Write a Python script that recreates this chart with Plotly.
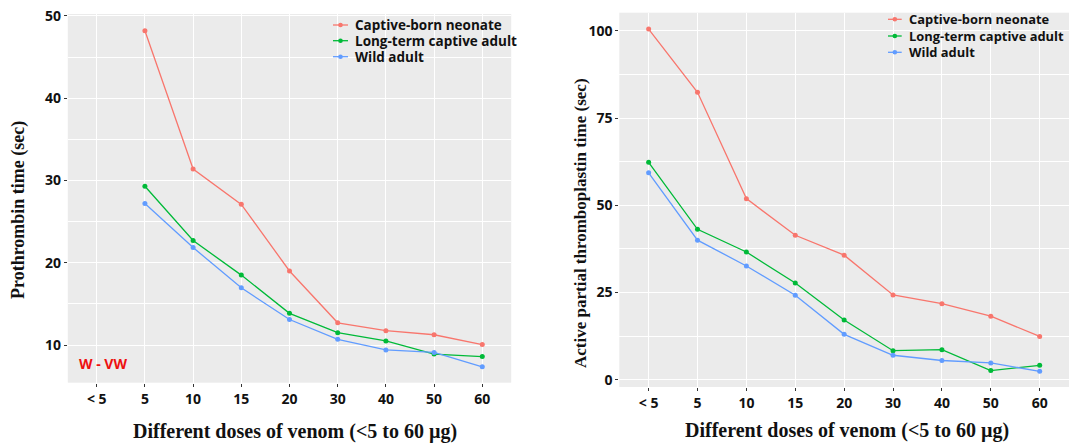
import plotly.graph_objects as go

W, H = 1069, 444

categories = ["< 5", "5", "10", "15", "20", "30", "40", "50", "60"]
series_names = ["Captive-born neonate", "Long-term captive adult", "Wild adult"]
series_colors = ["#F8766D", "#00BA38", "#619CFF"]

# Prothrombin time (sec)
neonate_pt = [None, 48.2, 31.4, 27.1, 19.0, 12.7, 11.75, 11.25, 10.05]
captive_pt = [None, 29.3, 22.7, 18.5, 13.85, 11.5, 10.5, 8.9, 8.6]
wild_pt = [None, 27.2, 21.85, 16.95, 13.1, 10.7, 9.4, 9.1, 7.35]

# Active partial thromboplastin time (sec)
neonate_aptt = [100.5, 82.4, 51.9, 41.4, 35.7, 24.3, 21.8, 18.2, 12.4]
captive_aptt = [62.3, 43.1, 36.6, 27.7, 17.1, 8.3, 8.6, 2.6, 4.1]
wild_aptt = [59.3, 40.0, 32.6, 24.2, 13.0, 7.0, 5.5, 4.8, 2.4]

def px(x):
    return x / W

def py(y):
    return (H - y) / H

fig = go.Figure()

for name, col, vals in zip(series_names, series_colors, [neonate_pt, captive_pt, wild_pt]):
    fig.add_trace(go.Scatter(x=categories, y=vals, name=name, mode="lines+markers",
                             line=dict(color=col, width=1.3), marker=dict(color=col, size=5),
                             xaxis="x", yaxis="y", showlegend=False))
for name, col, vals in zip(series_names, series_colors, [neonate_aptt, captive_aptt, wild_aptt]):
    fig.add_trace(go.Scatter(x=categories, y=vals, name=name, mode="lines+markers",
                             line=dict(color=col, width=1.3), marker=dict(color=col, size=5),
                             xaxis="x2", yaxis="y2", showlegend=False))

tickfont = dict(family="Open Sans", size=14, color="#111111", weight="bold")
common_x = dict(type="category", categoryorder="array", categoryarray=categories,
                range=[-0.6, 8.6], showgrid=True, gridcolor="white", gridwidth=1.4,
                ticks="outside", ticklen=3, tickcolor="#333333", tickwidth=1,
                tickfont=tickfont, zeroline=False, showline=False, fixedrange=True)
common_y = dict(showgrid=True, gridcolor="white", gridwidth=1.4,
                ticks="outside", ticklen=3, tickcolor="#333333", tickwidth=1,
                tickfont=tickfont, zeroline=False, showline=False)

fig.update_layout(
    width=W, height=H,
    margin=dict(l=0, r=0, t=0, b=0, autoexpand=False),
    paper_bgcolor="white",
    plot_bgcolor="#EBEBEB",
    showlegend=False,
    xaxis=dict(common_x, domain=[px(67.8), px(511.2)], anchor="y"),
    yaxis=dict(common_y, domain=[py(382.7), py(14)], anchor="x", range=[5.42, 50.24],
               dtick=10, tick0=0,
               minor=dict(dtick=5, tick0=0, showgrid=True, gridcolor="white", gridwidth=0.7, ticks="")),
    xaxis2=dict(common_x, domain=[px(619.3), 1.0], anchor="y2"),
    yaxis2=dict(common_y, domain=[py(387.0), py(12.7)], anchor="x2", range=[-2.1, 105.2],
                dtick=25, tick0=0,
                minor=dict(dtick=12.5, tick0=0, showgrid=True, gridcolor="white", gridwidth=0.7, ticks="")),
)

# Legends (one per panel), key = short line with dot, then label
legend_specs = [
    (333.0, 348.0, 353.3, [25.0, 40.7, 56.7], 13.5),
    (888.0, 901.7, 906.7, [19.3, 36.0, 52.3], 12.9),
]
for x0, x1, xt, ys, fsize in legend_specs:
    legfont = dict(family="Open Sans", size=fsize, color="#111111", weight="bold")
    for name, col, yy in zip(series_names, series_colors, ys):
        fig.add_shape(type="line", xref="paper", yref="paper",
                      x0=px(x0), x1=px(x1), y0=py(yy), y1=py(yy),
                      line=dict(color=col, width=1.3))
        cx = (x0 + x1) / 2
        fig.add_shape(type="circle", xref="paper", yref="paper",
                      x0=px(cx - 2.3), x1=px(cx + 2.3), y0=py(yy + 2.3), y1=py(yy - 2.3),
                      fillcolor=col, line=dict(width=0))
        fig.add_annotation(text=name, xref="paper", yref="paper", x=px(xt), y=py(yy),
                           xanchor="left", yanchor="middle", showarrow=False, font=legfont)

serif_title = dict(family="Liberation Serif", color="#111111", weight="bold")
fig.add_annotation(text="Prothrombin time (sec)", xref="paper", yref="paper",
                   x=px(18), y=py(210), textangle=-90, showarrow=False,
                   xanchor="center", yanchor="middle", font=dict(serif_title, size=18))
fig.add_annotation(text="Active partial thromboplastin time (sec)", xref="paper", yref="paper",
                   x=px(580), y=py(223), textangle=-90, showarrow=False,
                   xanchor="center", yanchor="middle", font=dict(serif_title, size=17))
fig.add_annotation(text="Different doses of venom (<5 to 60 µg)", xref="paper", yref="paper",
                   x=px(295), y=py(431.7), showarrow=False,
                   xanchor="center", yanchor="middle", font=dict(serif_title, size=20))
fig.add_annotation(text="Different doses of venom (<5 to 60 µg)", xref="paper", yref="paper",
                   x=px(847), y=py(430), showarrow=False,
                   xanchor="center", yanchor="middle", font=dict(serif_title, size=20))
fig.add_annotation(text="W - VW", xref="paper", yref="paper",
                   x=px(77), y=py(363.3), showarrow=False,
                   xanchor="left", yanchor="middle",
                   font=dict(family="Open Sans", size=14, color="#EE1111", weight="bold"))

fig.write_html("out.html", config={"displayModeBar": False},
               post_script="document.body.style.margin='0px';document.body.style.overflow='hidden';")
